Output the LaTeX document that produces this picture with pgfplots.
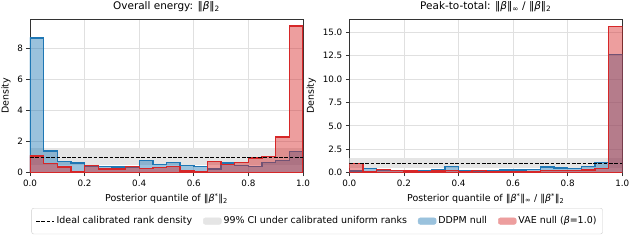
\documentclass[border=0pt]{standalone}
\usepackage{fontspec}
\setmainfont{DejaVu Sans}
\usepackage{pgfplots}
\pgfplotsset{compat=1.18}
\definecolor{tabblue}{HTML}{1F77B4}
\definecolor{tabred}{HTML}{D62728}
\newcommand{\bt}{\textit{β}}
\pgfplotsset{
  hstyle/.style={
    scale only axis, width=273bp, height=153.7bp,
    xmin=0, xmax=1, ymin=0,
    axis line style={black!80, line width=0.8bp},
    tick align=outside, xtick pos=left, ytick pos=left,
    major tick length=3.5bp, tick style={black!80, line width=0.8bp},
    grid=major, grid style={black!12, line width=0.8bp},
    xtick={0,0.2,0.4,0.6,0.8,1},
    xticklabel style={/pgf/number format/.cd, fixed, fixed zerofill, precision=1},
    /pgf/number format/assume math mode=true,
    ticklabel style={font=\fontsize{8.8}{10}\selectfont},
    label style={font=\fontsize{9.5}{11}\selectfont},
    title style={font=\fontsize{10.5}{12}\selectfont, yshift=-2.5bp},
    ylabel={Density},
  },
  bluebar/.style={const plot, draw=tabblue, fill=tabblue, fill opacity=0.45, line width=1.4bp, forget plot},
  redbar/.style={const plot, draw=tabred, fill=tabred, fill opacity=0.45, line width=1.4bp, forget plot},
  band/.style={draw=none, fill=black!10, forget plot},
  ideal/.style={black, line width=1bp, dash pattern=on 3.7bp off 1.6bp},
  idealleg/.style={legend image code/.code={\draw[black, line width=1bp, dash pattern=on 3.7bp off 1.6bp] (0bp,0bp) -- (18bp,0bp);}},
  patchgrey/.style={legend image code/.code={\fill[black!10] (0bp,-3.2bp) rectangle (18bp,3.2bp);}},
  patchblue/.style={legend image code/.code={\fill[tabblue!45] (0bp,-3.2bp) rectangle (18bp,3.2bp);}},
  patchred/.style={legend image code/.code={\fill[tabred!45] (0bp,-3.2bp) rectangle (18bp,3.2bp);}},
}
\begin{document}
\begin{tikzpicture}
\path[use as bounding box] (0,0) rectangle (636bp,241bp);
\begin{axis}[hstyle, at={(30bp,68.3bp)}, anchor=south west,
  ymax=9.88, ytick={0,2,4,6,8},
  title={Overall energy: ‖\bt‖\textsubscript{2}},
  xlabel={Posterior quantile of ‖\bt\textsuperscript{*}‖\textsubscript{2}}]
\addplot[band] coordinates {(0,0.47) (1,0.47) (1,1.6) (0,1.6)} -- cycle;
\addplot[bluebar] coordinates {
(0.00,8.65) (0.05,1.40) (0.10,0.73) (0.15,0.63) (0.20,0.40) (0.25,0.39) (0.30,0.36) (0.35,0.33)
(0.40,0.77) (0.45,0.51) (0.50,0.66) (0.55,0.47) (0.60,0.41) (0.65,0.25) (0.70,0.63) (0.75,0.47)
(0.80,0.39) (0.85,0.64) (0.90,0.77) (0.95,1.38) (1.00,1.38)} \closedcycle;
\addplot[redbar] coordinates {
(0.00,1.08) (0.05,0.60) (0.10,0.37) (0.15,0.09) (0.20,0.47) (0.25,0.24) (0.30,0.24) (0.35,0.38)
(0.40,0.27) (0.45,0.33) (0.50,0.38) (0.55,0.12) (0.60,0.06) (0.65,0.72) (0.70,0.52) (0.75,0.66)
(0.80,0.94) (0.85,1.03) (0.90,2.29) (0.95,9.42) (1.00,9.42)} \closedcycle;
\addplot[ideal, forget plot] coordinates {(0,1) (1,1)};
\end{axis}
\begin{axis}[hstyle, at={(349.3bp,68.3bp)}, anchor=south west,
  ymax=16.4, ytick={0,2.5,5,7.5,10,12.5,15},
  yticklabel style={/pgf/number format/.cd, fixed, fixed zerofill, precision=1},
  title={Peak-to-total: ‖\bt‖\textsubscript{∞} / ‖\bt‖\textsubscript{2}},
  xlabel={Posterior quantile of ‖\bt\textsuperscript{*}‖\textsubscript{∞} / ‖\bt\textsuperscript{*}‖\textsubscript{2}},
  legend columns=4,
  legend style={at={(-0.118,-0.23)}, anchor=north, draw=black!20, rounded corners=2bp,
    font=\fontsize{9.5}{11}\selectfont, inner xsep=4bp, inner ysep=6.5bp,
    /tikz/every odd column/.append style={column sep=0bp},
    /tikz/every even column/.append style={column sep=9bp}},
  legend cell align=left]
\addplot[band] coordinates {(0,0.47) (1,0.47) (1,1.6) (0,1.6)} -- cycle;
\addplot[bluebar] coordinates {
(0.00,0.18) (0.05,0.46) (0.10,0.28) (0.15,0.22) (0.20,0.18) (0.25,0.25) (0.30,0.32) (0.35,0.68)
(0.40,0.25) (0.45,0.20) (0.50,0.18) (0.55,0.28) (0.60,0.28) (0.65,0.36) (0.70,0.60) (0.75,0.50)
(0.80,0.46) (0.85,0.64) (0.90,1.10) (0.95,12.6) (1.00,12.6)} \closedcycle;
\addplot[redbar] coordinates {
(0.00,1.00) (0.05,0.14) (0.10,0.34) (0.15,0.26) (0.20,0.20) (0.25,0.14) (0.30,0.18) (0.35,0.24)
(0.40,0.10) (0.45,0.26) (0.50,0.13) (0.55,0.07) (0.60,0.13) (0.65,0.10) (0.70,0.26) (0.75,0.26)
(0.80,0.26) (0.85,0.30) (0.90,0.44) (0.95,15.6) (1.00,15.6)} \closedcycle;
\addplot[ideal, forget plot] coordinates {(0,1) (1,1)};
\addlegendimage{idealleg}
\addlegendentry{Ideal calibrated rank density}
\addlegendimage{patchgrey}
\addlegendentry{99\% CI under calibrated uniform ranks}
\addlegendimage{patchblue}
\addlegendentry{DDPM null}
\addlegendimage{patchred}
\addlegendentry{VAE null (\bt=1.0)}
\end{axis}
\end{tikzpicture}
\end{document}
